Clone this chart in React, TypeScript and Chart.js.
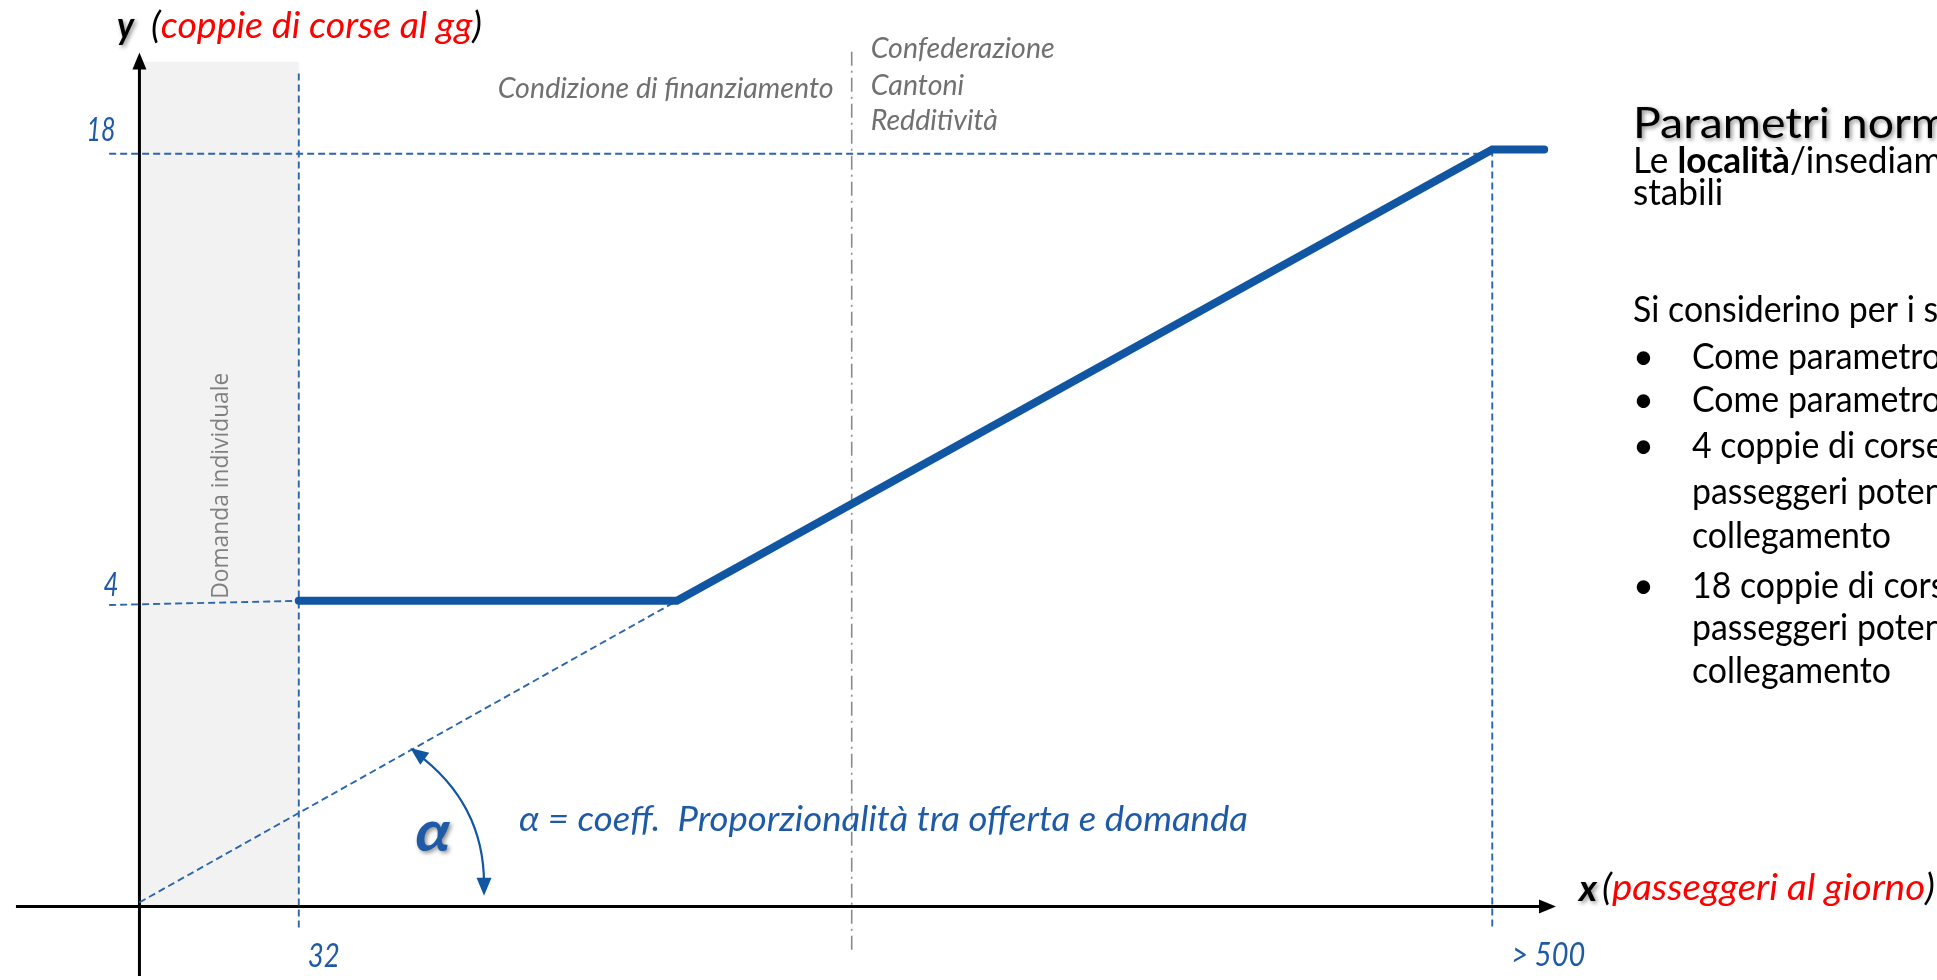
import React, { useEffect, useRef } from "react";
import { Chart, registerables } from "chart.js";

Chart.register(...registerables);

const W = 1937;
const H = 980;

// Schematic (not-to-scale) axes of the diagram:
// 1 x-unit = distance from origin to the "32" threshold, 1 y-unit ~ one trip pair on the upper part
const xRange = [-0.85, 11.256];
const yRange = [-1.66, 21.58];

// Offer curve (coppie di corse) vertices
const supplyX = [1, 3.373, 8.49, 8.816];
const supplyY = [7.31, 7.31, 18.1, 18.1];

// Proportionality line offer/demand (angle alpha)
const proportionalX = [0, 3.373];
const proportionalY = [0.1, 7.31];

// Axis ticks
const xTickValues = [1, 8.49];
const xTickLabels = ["32", "> 500"];
const xGuideTops = [19.92, 18.1];
const yTickValues = [7.31, 18.0];
const yTickLabels = ["4", "18"];

// Funding-condition split and individual demand band
const fundingSplitX = 4.47;
const fundingSplitRange = [-1.03, 20.46];
const individualDemandX = [0, 1];
const individualDemandTop = 20.2;

const axisXRange = [-0.775, 8.89];
const axisYRange = [-1.66, 20.42];

const BLUE_LINE = "#1156a2";
const BLUE_DASH = "#2b66ae";
const BLUE_TEXT = "#1f5aa6";
const GRAY_TEXT = "#707070";
const RED = "#ff0000";

const FONT = "Lato, Carlito, 'Open Sans', sans-serif";

type Run = { t: string; font: string; color: string };

function measureRuns(ctx: CanvasRenderingContext2D, runs: Run[]) {
  let total = 0;
  const widths = runs.map((r) => {
    ctx.font = r.font;
    const w = ctx.measureText(r.t).width;
    total += w;
    return w;
  });
  return { total, widths };
}

function drawRuns(
  ctx: CanvasRenderingContext2D,
  runs: Run[],
  x: number,
  y: number,
  opts: { align?: "left" | "right" | "center"; width?: number; scale?: number; shadow?: boolean } = {}
) {
  ctx.save();
  ctx.textBaseline = "middle";
  ctx.textAlign = "left";
  const { total, widths } = measureRuns(ctx, runs);
  const sx = opts.width ? opts.width / total : opts.scale ?? 1;
  const dw = total * sx;
  const x0 = opts.align === "right" ? x - dw : opts.align === "center" ? x - dw / 2 : x;
  ctx.translate(x0, y);
  ctx.scale(sx, 1);
  if (opts.shadow) {
    ctx.shadowColor = "rgba(0,0,0,0.45)";
    ctx.shadowBlur = 4;
    ctx.shadowOffsetX = 2;
    ctx.shadowOffsetY = 2;
  }
  let cx = 0;
  runs.forEach((r, i) => {
    ctx.font = r.font;
    ctx.fillStyle = r.color;
    ctx.fillText(r.t, cx, 0);
    cx += widths[i];
  });
  ctx.restore();
}

function fitScale(ctx: CanvasRenderingContext2D, text: string, font: string, width: number) {
  ctx.save();
  ctx.font = font;
  const w = ctx.measureText(text).width;
  ctx.restore();
  return width / w;
}

function arrowHead(
  ctx: CanvasRenderingContext2D,
  tipX: number,
  tipY: number,
  dx: number,
  dy: number,
  len: number,
  half: number,
  color: string
) {
  const n = Math.hypot(dx, dy);
  const ux = dx / n;
  const uy = dy / n;
  const bx = tipX - ux * len;
  const by = tipY - uy * len;
  ctx.beginPath();
  ctx.moveTo(tipX, tipY);
  ctx.lineTo(bx - uy * half, by + ux * half);
  ctx.lineTo(bx + uy * half, by - ux * half);
  ctx.closePath();
  ctx.fillStyle = color;
  ctx.fill();
}

const diagramPlugin = {
  id: "diagram",
  beforeDatasetsDraw(chart: any) {
    const ctx: CanvasRenderingContext2D = chart.ctx;
    const xs = chart.scales.x;
    const ys = chart.scales.y;
    const px = (v: number) => xs.getPixelForValue(v);
    const py = (v: number) => ys.getPixelForValue(v);

    ctx.save();
    // individual demand band
    ctx.fillStyle = "#f2f2f2";
    const rx0 = px(individualDemandX[0]);
    const rx1 = px(individualDemandX[1]);
    ctx.fillRect(rx0, py(individualDemandTop), rx1 - rx0, py(0) - py(individualDemandTop));

    // "Domanda individuale"
    ctx.save();
    ctx.translate((rx0 + rx1) / 2 + 2, py(individualDemandTop) + 424);
    ctx.rotate(-Math.PI / 2);
    drawRuns(ctx, [{ t: "Domanda individuale", font: "23px 'Open Sans', sans-serif", color: "#7f7f7f" }], 0, 0, {
      align: "center",
      width: 226,
    });
    ctx.restore();

    // axes
    ctx.strokeStyle = "#000";
    ctx.lineWidth = 3;
    ctx.beginPath();
    ctx.moveTo(px(axisXRange[0]), py(0));
    ctx.lineTo(px(axisXRange[1]) - 12, py(0));
    ctx.stroke();
    arrowHead(ctx, px(axisXRange[1]), py(0), 1, 0, 17, 7, "#000");
    ctx.beginPath();
    ctx.moveTo(px(0), py(axisYRange[0]));
    ctx.lineTo(px(0), py(axisYRange[1]) + 12);
    ctx.stroke();
    arrowHead(ctx, px(0), py(axisYRange[1]), 0, -1, 17, 7, "#000");
    ctx.restore();
  },
  afterDatasetsDraw(chart: any) {
    const ctx: CanvasRenderingContext2D = chart.ctx;
    const xs = chart.scales.x;
    const ys = chart.scales.y;
    const px = (v: number) => xs.getPixelForValue(v);
    const py = (v: number) => ys.getPixelForValue(v);
    ctx.save();

    // alpha arc with arrows
    const sX = px(1.7), sY = py(3.79);
    const eX = px(2.1625), eY = py(0.26);
    const cX = px(2.1625), cY = py(2.47);
    ctx.strokeStyle = BLUE_LINE;
    ctx.lineWidth = 2.2;
    ctx.beginPath();
    ctx.moveTo(sX + 6, sY + 5);
    ctx.quadraticCurveTo(cX, cY, eX, eY - 12);
    ctx.stroke();
    arrowHead(ctx, sX, sY, sX - cX, sY - cY, 18, 7.5, BLUE_LINE);
    arrowHead(ctx, eX, eY, 0, 1, 18, 7.5, BLUE_LINE);

    // tick labels
    const tickFont = `italic 32px ${FONT}`;
    drawRuns(ctx, [{ t: xTickLabels[0], font: tickFont, color: BLUE_TEXT }], px(xTickValues[0]) + 9, 957, { width: 32 });
    drawRuns(ctx, [{ t: xTickLabels[1], font: tickFont, color: BLUE_TEXT }], px(xTickValues[1]) + 19, 956, { width: 74 });
    drawRuns(ctx, [{ t: yTickLabels[0], font: tickFont, color: BLUE_TEXT }], px(0) - 21, py(yTickValues[0]) - 15, {
      align: "right",
      width: 15,
    });
    drawRuns(ctx, [{ t: yTickLabels[1], font: tickFont, color: BLUE_TEXT }], px(0) - 24, py(yTickValues[1]) - 23, {
      align: "right",
      width: 29,
    });

    // axis titles
    drawRuns(ctx, [{ t: "y", font: `bold italic 38px ${FONT}`, color: "#000" }], 117, 27, { shadow: true, width: 17 });
    const tFont = `italic 37px ${FONT}`;
    drawRuns(
      ctx,
      [
        { t: "(", font: tFont, color: "#000" },
        { t: "coppie di corse al gg", font: tFont, color: RED },
        { t: ")", font: tFont, color: "#000" },
      ],
      151,
      26,
      { width: 331 }
    );
    drawRuns(ctx, [{ t: "x", font: `bold italic 37px ${FONT}`, color: "#000" }], 1579, 889, { shadow: true, width: 18 });
    drawRuns(
      ctx,
      [
        { t: "(", font: tFont, color: "#000" },
        { t: "passeggeri al giorno", font: tFont, color: RED },
        { t: ")", font: tFont, color: "#000" },
      ],
      1602,
      888,
      { width: 333 }
    );

    // funding condition labels
    const gFont = `italic 29px ${FONT}`;
    drawRuns(ctx, [{ t: "Condizione di finanziamento", font: gFont, color: GRAY_TEXT }], px(fundingSplitX) - 18, 89, {
      align: "right",
      width: 336,
    });
    const gs = fitScale(ctx, "Confederazione", gFont, 184);
    const gx = px(fundingSplitX) + 19;
    drawRuns(ctx, [{ t: "Confederazione", font: gFont, color: GRAY_TEXT }], gx, 49, { scale: gs });
    drawRuns(ctx, [{ t: "Cantoni", font: gFont, color: GRAY_TEXT }], gx, 86, { scale: gs });
    drawRuns(ctx, [{ t: "Redditività", font: gFont, color: GRAY_TEXT }], gx, 121, { scale: gs });

    // alpha
    drawRuns(ctx, [{ t: "α", font: `bold italic 58px ${FONT}`, color: BLUE_TEXT }], 433, 832, {
      align: "center",
      shadow: true,
      width: 35,
    });
    drawRuns(
      ctx,
      [{ t: "α = coeff.  Proporzionalità tra offerta e domanda", font: `italic 34px ${FONT}`, color: BLUE_TEXT }],
      519,
      820,
      { width: 729 }
    );

    // right panel
    const hFont = `42px ${FONT}`;
    const hs = fitScale(ctx, "Parametri norm", hFont, 316);
    drawRuns(ctx, [{ t: "Parametri normativi", font: hFont, color: "#000" }], 1633, 124, { scale: hs, shadow: true });

    const bFont = `36px ${FONT}`;
    const bBold = `bold 36px ${FONT}`;
    const bs = fitScale(ctx, "collegamento", bFont, 199);
    const k = "#000";
    drawRuns(
      ctx,
      [
        { t: "Le ", font: bFont, color: k },
        { t: "località", font: bBold, color: k },
        { t: "/insediamenti", font: bFont, color: k },
      ],
      1633,
      161,
      { scale: bs * 1.04 }
    );
    drawRuns(ctx, [{ t: "stabili", font: bFont, color: k }], 1633, 193, { scale: bs * 1.04 });
    drawRuns(ctx, [{ t: "Si considerino per i servizi", font: bFont, color: k }], 1633, 310, { scale: bs });
    const lines: [string, number, boolean][] = [
      ["Come parametro", 357, true],
      ["Come parametro", 400, true],
      ["4 coppie di corse", 446, true],
      ["passeggeri potenziali", 492, false],
      ["collegamento", 536, false],
      ["18 coppie di corse", 586, true],
      ["passeggeri potenziali", 628, false],
      ["collegamento", 671, false],
    ];
    lines.forEach(([t, y, bullet]) => {
      if (bullet) drawRuns(ctx, [{ t: "•", font: bFont, color: k }], 1633, y, { scale: 1 });
      drawRuns(ctx, [{ t, font: bFont, color: k }], 1692, y, { scale: bs });
    });

    ctx.restore();
  },
};

function line(xs: number[], ys: number[]) {
  return xs.map((x, i) => ({ x, y: ys[i] }));
}

export default function App() {
  const ref = useRef<HTMLCanvasElement | null>(null);

  useEffect(() => {
    if (!ref.current) return;
    const dashed = {
      borderColor: BLUE_DASH,
      borderWidth: 1.9,
      borderDash: [7, 4],
      pointRadius: 0,
      showLine: true,
      fill: false,
      order: 2,
    };
    const datasets: any[] = [
      {
        label: "Offerta",
        data: line(supplyX, supplyY),
        borderColor: BLUE_LINE,
        borderWidth: 8,
        borderCapStyle: "round",
        borderJoinStyle: "miter",
        pointRadius: 0,
        showLine: true,
        fill: false,
        order: 0,
      },
      { label: "Proporzionalità", data: line(proportionalX, proportionalY), ...dashed },
      {
        label: "Finanziamento",
        data: line([fundingSplitX, fundingSplitX], fundingSplitRange),
        borderColor: "#8a8a8a",
        borderWidth: 1.6,
        borderDash: [14, 5, 2, 5],
        pointRadius: 0,
        showLine: true,
        fill: false,
        order: 3,
      },
    ];
    xTickValues.forEach((v, i) => {
      datasets.push({ label: "v" + i, data: line([v, v], [xGuideTops[i], -0.5]), ...dashed });
    });
    yTickValues.forEach((v, i) => {
      datasets.push({ label: "h" + i, data: line([-0.19, xTickValues[i]], [v - (i === 0 ? 0.1 : 0), v]), ...dashed });
    });

    const chart = new Chart(ref.current, {
      type: "scatter",
      data: { datasets },
      plugins: [diagramPlugin as any],
      options: {
        responsive: false,
        maintainAspectRatio: false,
        animation: false,
        devicePixelRatio: 1,
        layout: { padding: 0 },
        plugins: { legend: { display: false }, tooltip: { enabled: false }, title: { display: false } },
        scales: {
          x: { type: "linear", min: xRange[0], max: xRange[1], display: false },
          y: { type: "linear", min: yRange[0], max: yRange[1], display: false },
        },
      },
    });
    const fonts = (document as any).fonts;
    if (fonts && fonts.load) {
      Promise.all([
        fonts.load(`30px Lato`),
        fonts.load(`italic 30px Lato`),
        fonts.load(`bold 30px Lato`),
        fonts.load(`bold italic 30px Lato`),
        fonts.load(`20px 'Open Sans'`),
      ])
        .then(() => chart.update())
        .catch(() => {});
    }
    return () => chart.destroy();
  }, []);

  return (
    <div style={{ position: "absolute", left: 0, top: 0, width: W, height: H, background: "#fff" }}>
      <canvas ref={ref} width={W} height={H} style={{ display: "block", width: W, height: H }} />
    </div>
  );
}
